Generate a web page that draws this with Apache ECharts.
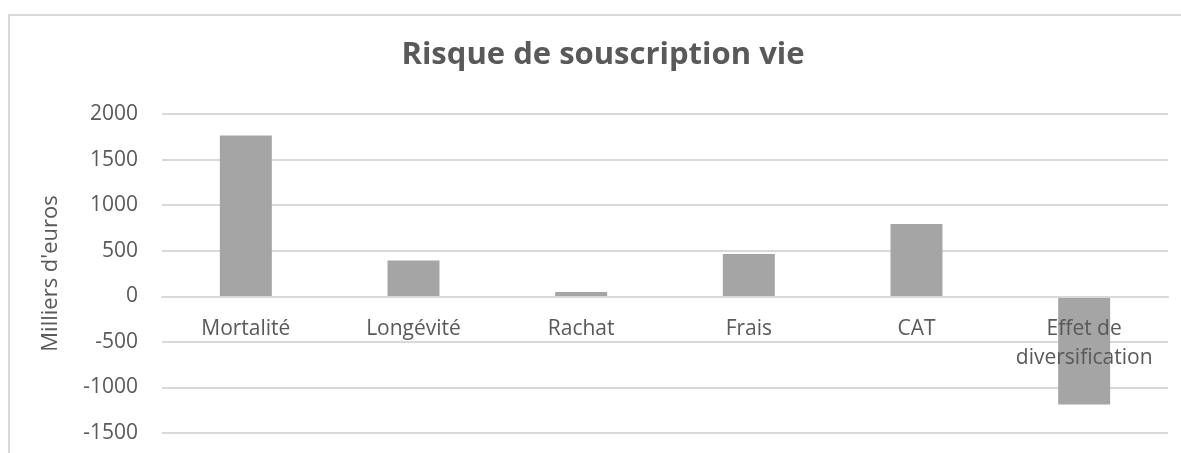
<!DOCTYPE html>
<html>
<head>
<meta charset="utf-8">
<script src="https://cdn.jsdelivr.net/npm/echarts@6/dist/echarts.min.js"></script>
<style>
  html, body { margin: 0; padding: 0; background: #fff; }
  #chart { width: 1181px; height: 453px; }
</style>
</head>
<body>
<div id="chart"></div>
<script>
// categories and values (milliers d'euros)
var categories = ['Mortalité', 'Longévité', 'Rachat', 'Frais', 'CAT', 'Effet de diversification']
var values = [1763, 394, 47, 463, 792, -1186]
var yTicks = { min: -1500, max: 2000, interval: 500 }

var textColor = '#595959'
var gridColor = '#d9d9d9'
var fontFamily = '"Open Sans", "Noto Sans", sans-serif'

var gridTop = 114
var gridBottom = 20
var plotHeight = 453 - gridTop - gridBottom
// shift the category axis up to the zero line
var zeroOffset = plotHeight * (0 - yTicks.min) / (yTicks.max - yTicks.min)

var chart = echarts.init(document.getElementById('chart'))
chart.setOption({
  animation: false,
  textStyle: { fontFamily: fontFamily },
  // chart frame (only top and left edges visible in the crop)
  graphic: [
    {
      type: 'rect',
      shape: { x: 9, y: 15, width: 1200, height: 500 },
      style: { fill: 'none', stroke: gridColor, lineWidth: 2 },
      silent: true
    }
  ],
  title: {
    text: 'Risque de souscription vie',
    left: 598,
    top: 35,
    textAlign: 'center',
    textStyle: {
      fontFamily: fontFamily,
      fontSize: 31,
      fontWeight: 'bold',
      color: textColor
    }
  },
  grid: {
    left: 162,
    right: 13,
    top: gridTop,
    bottom: gridBottom,
    outerBoundsMode: 'none'
  },
  xAxis: {
    type: 'category',
    data: categories,
    z: 10,
    offset: -zeroOffset,
    axisLine: { onZero: false, lineStyle: { color: gridColor, width: 2 } },
    axisTick: { show: false },
    axisLabel: {
      color: textColor,
      fontSize: 21,
      margin: 18,
      lineHeight: 29,
      formatter: function (v) { return v.replace('Effet de ', 'Effet de\n') },
      interval: 0
    }
  },
  yAxis: {
    type: 'value',
    min: yTicks.min,
    max: yTicks.max,
    interval: yTicks.interval,
    name: "Milliers d'euros",
    nameLocation: 'middle',
    nameRotate: 90,
    nameGap: 100,
    nameTextStyle: { color: textColor, fontSize: 22 },
    axisLine: { show: false },
    axisTick: { show: false },
    axisLabel: {
      color: textColor,
      fontSize: 21,
      margin: 24,
      formatter: function (v) { return String(v) }
    },
    splitLine: { lineStyle: { color: gridColor, width: 2 } }
  },
  series: [
    {
      type: 'bar',
      data: values,
      barWidth: '31%',
      itemStyle: { color: '#a5a5a5' }
    }
  ]
})
</script>
</body>
</html>
